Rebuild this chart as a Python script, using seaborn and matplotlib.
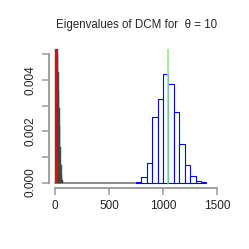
import numpy as np
import matplotlib
matplotlib.use("Agg")
import matplotlib.pyplot as plt
import seaborn as sns

# eigenvalue densities
blue_edges = [750, 800, 850, 900, 950, 1000, 1050, 1100, 1150, 1200, 1250, 1300, 1350, 1400]
blue_dens = [0.00004, 0.00023, 0.00075, 0.00255, 0.00325, 0.00423, 0.00383,
             0.00275, 0.00149, 0.00068, 0.00026, 0.00006, 0.00002]

black_edges = [0, 5, 10, 15, 20, 25, 30, 35, 40, 45, 50, 55, 60, 65, 70]
black_dens = [0.02, 0.012, 0.0085, 0.0068, 0.0058, 0.0050, 0.0043, 0.0036,
              0.0029, 0.0022, 0.0014, 0.0007, 0.0003, 0.0001]

red_edges = [0, 5, 10, 15, 20, 25]
red_dens = [0.06, 0.025, 0.009, 0.0056, 0.001]

gray_span = [0, 750]
theta_line = 1045

sns.set_style("white")
plt.rcParams['font.family'] = ['Liberation Sans', 'DejaVu Sans']

fig = plt.figure(figsize=(2.49, 2.49), dpi=100)
ax = fig.add_axes([0.195, 0.246, 0.703, 0.557])

mid = lambda e: [(a + b) / 2 for a, b in zip(e[:-1], e[1:])]

ax.plot(gray_span, [0, 0], color="#777777", lw=1.2, zorder=1)
sns.histplot(x=mid(black_edges), weights=black_dens, bins=black_edges, stat="count",
             color="black", alpha=0.6, edgecolor="#444444", linewidth=0.3, ax=ax, zorder=2)
sns.histplot(x=mid(red_edges), weights=red_dens, bins=red_edges, stat="count",
             color="red", alpha=0.85, edgecolor="none", ax=ax, zorder=3)
sns.histplot(x=mid(blue_edges), weights=blue_dens, bins=blue_edges, stat="count",
             fill=True, facecolor="white", edgecolor="blue", linewidth=0.8, alpha=1, ax=ax, zorder=2)
ax.axvline(theta_line, ymin=0.037, ymax=1, color="#90ee90", lw=1.2, zorder=4)

ax.set_xlim(-60, 1560)
ax.set_ylim(-0.0002, 0.0052)
ax.set_xticks([0, 500, 1000, 1500])
ax.set_xticklabels(["0", "500", "1000", "1500"])
ax.set_yticks([0, 0.001, 0.002, 0.003, 0.004, 0.005])
ax.set_yticklabels(["0.000", "", "0.002", "", "0.004", ""], rotation=90, va="center")
ax.set_xlabel("")
ax.set_ylabel("")
ax.set_title("Eigenvalues of DCM for  θ = 10", fontsize=8.3, pad=15)

for s in ["top", "right"]:
    ax.spines[s].set_visible(False)
ax.spines["left"].set_bounds(0, 0.005)
ax.spines["bottom"].set_bounds(0, 1500)
for s in ["left", "bottom"]:
    ax.spines[s].set_color("#999999")
    ax.spines[s].set_linewidth(1.3)
ax.tick_params(axis="both", direction="out", length=5, width=1.1, color="#999999",
               labelsize=8.5, labelcolor="#222222", pad=4)
ax.tick_params(axis="both", left=True, bottom=True)

fig.savefig("out.png", dpi=100)
